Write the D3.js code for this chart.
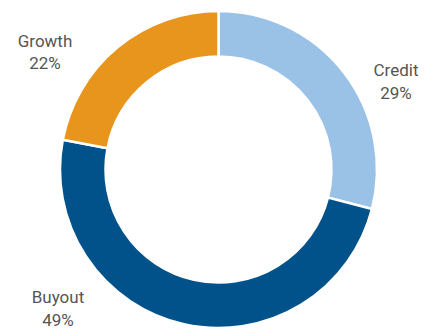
<!DOCTYPE html>
<html>
<head>
<meta charset="utf-8">
<script src="https://cdn.jsdelivr.net/npm/d3@7"></script>
<style>
  html, body { margin: 0; padding: 0; background: #fff; }
  svg { display: block; }
</style>
</head>
<body>
<svg id="chart" width="434" height="328"></svg>
<script>
const categories = ["Credit", "Buyout", "Growth"];
const values = [29, 49, 22];
const colors = ["#9AC1E6", "#01528A", "#E8951D"];

// label layout (anchor points for the two-line labels)
const labelLayout = [
  { x: 396, y: 76 },
  { x: 58, y: 303 },
  { x: 45, y: 46.5 }
];

const width = 434, height = 328;
const cx = 218.5, cy = 169.5;
const outerR = 158.5, innerR = 113;

const svg = d3.select("#chart");
const g = svg.append("g").attr("transform", `translate(${cx},${cy})`);

const data = categories.map((c, i) => ({ name: c, value: values[i], color: colors[i] }));

const pie = d3.pie().value(d => d.value).sort(null);
const arc = d3.arc().innerRadius(innerR).outerRadius(outerR);

g.selectAll("path")
  .data(pie(data))
  .join("path")
  .attr("d", arc)
  .attr("fill", d => d.data.color)
  .attr("stroke", "#fff")
  .attr("stroke-width", 2.5)
  .attr("stroke-linejoin", "miter");

const labels = svg.append("g")
  .attr("font-family", "Roboto, 'Noto Sans', sans-serif")
  .attr("font-size", 17)
  .attr("fill", "#555555")
  .attr("text-anchor", "middle");

data.forEach((d, i) => {
  const t = labels.append("text")
    .attr("x", labelLayout[i].x)
    .attr("y", labelLayout[i].y);
  t.append("tspan").attr("x", labelLayout[i].x).text(d.name);
  t.append("tspan").attr("x", labelLayout[i].x).attr("dy", 22.5).text(d.value + "%");
});
</script>
</body>
</html>
